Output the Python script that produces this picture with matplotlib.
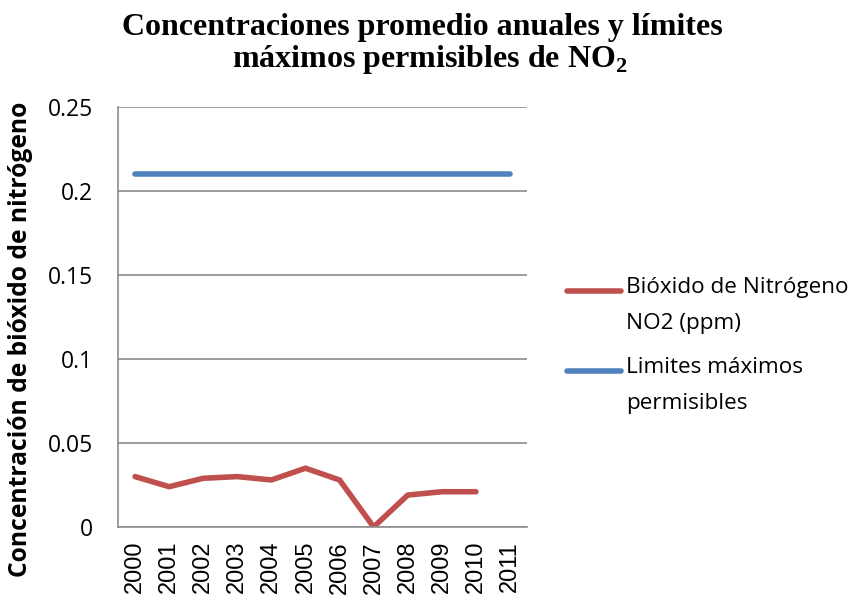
import matplotlib
matplotlib.use("Agg")
import matplotlib.pyplot as plt
from matplotlib.lines import Line2D

years = ["2000", "2001", "2002", "2003", "2004", "2005", "2006", "2007", "2008", "2009", "2010", "2011"]
no2_values = [0.030, 0.024, 0.029, 0.030, 0.028, 0.035, 0.028, 0.000, 0.019, 0.021, 0.021]
limit_values = [0.21] * 12
y_ticks = [0, 0.05, 0.1, 0.15, 0.2, 0.25]
y_tick_labels = ["0", "0.05", "0.1", "0.15", "0.2", "0.25"]
series_labels = ["Bióxido de Nitrógeno\nNO2 (ppm)", "Limites máximos\npermisibles"]
series_colors = ["#C0504D", "#4F81BD"]

W, H = 857, 599
fig = plt.figure(figsize=(W/100, H/100), dpi=100)
ax = fig.add_axes([118/W, 1-527/H, (527-118)/W, (527-107)/H])

x_idx = list(range(len(years)))
ax.plot(x_idx[:len(no2_values)], no2_values, color=series_colors[0], lw=4, solid_capstyle="round",
        solid_joinstyle="round")
ax.plot(x_idx, limit_values, color=series_colors[1], lw=4, solid_capstyle="round")

ax.set_xlim(-0.5, len(years) - 0.5)
ax.set_ylim(0, 0.25)
ax.set_yticks(y_ticks)
ax.set_yticklabels(y_tick_labels, fontfamily="Open Sans", fontsize=16.5)
ax.set_xticks(x_idx)
ax.set_xticklabels(years, rotation=90, fontfamily="Liberation Sans", fontsize=17)
ax.tick_params(axis="x", length=0, pad=10, colors="black")
ax.tick_params(axis="y", length=0, pad=18, colors="black")
ax.grid(axis="y", color="#8C8C8C", lw=1.2)
ax.set_axisbelow(True)
for s in ["top", "right"]:
    ax.spines[s].set_visible(False)
for s in ["left", "bottom"]:
    ax.spines[s].set_color("#8C8C8C")
    ax.spines[s].set_linewidth(1.2)

fig.text(21/W, 1-339/H, "Concentración de bióxido de nitrógeno", rotation=90, ha="center", va="center",
         fontfamily="Open Sans", fontweight="bold", fontsize=17.7)

fig.text(422/W, 1-27/H, "Concentraciones promedio anuales y límites", ha="center", va="center",
         fontfamily="Liberation Serif", fontweight="bold", fontsize=23)
fig.text(430/W, 1-59/H, r"máximos permisibles de NO$_\mathregular{2}$", ha="center", va="center",
         fontfamily="Liberation Serif", fontweight="bold", fontsize=23)

# legend (handle aligned with first text line, as in the reference)
legend_y = [291, 371]
for lab, col, yy in zip(series_labels, series_colors, legend_y):
    fig.add_artist(Line2D([567/W, 621/W], [1-yy/H, 1-yy/H], color=col, lw=4,
                          solid_capstyle="round", transform=fig.transFigure))
    fig.text(626/W, 1-(yy-14)/H, lab, ha="left", va="top", fontfamily="Open Sans", fontsize=16.2,
             linespacing=1.95)

fig.savefig("out.png", dpi=100)
